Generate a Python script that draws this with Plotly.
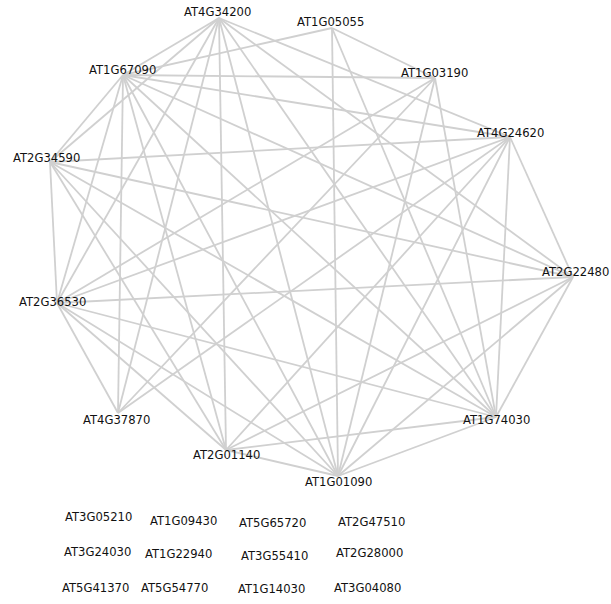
import plotly.graph_objects as go

# Gene interaction network: node names, layout coordinates and edges
genes = [
    "AT4G34200", "AT1G05055", "AT1G67090", "AT1G03190", "AT2G34590", "AT4G24620",
    "AT2G22480", "AT2G36530", "AT4G37870", "AT1G74030", "AT2G01140", "AT1G01090",
]
node_x = [219, 332, 123, 435, 50, 510, 573, 57, 118, 496, 226, 338]
node_y = [18, 28, 75, 78, 162, 137, 277, 303, 413, 417, 450, 476]

# Genes without any interaction, laid out in a grid under the network
lone_genes = [
    "AT3G05210", "AT1G09430", "AT5G65720", "AT2G47510",
    "AT3G24030", "AT1G22940", "AT3G55410", "AT2G28000",
    "AT5G41370", "AT5G54770", "AT1G14030", "AT3G04080",
]
lone_x = [98, 183, 272, 371, 97, 178, 274, 369, 95, 174, 271, 367]
lone_y = [517, 521, 523, 522, 552, 554, 556, 553, 588, 588, 589, 588]

edges = [
    ("AT4G34200", "AT1G67090"), ("AT4G34200", "AT2G34590"), ("AT4G34200", "AT2G36530"),
    ("AT4G34200", "AT4G37870"), ("AT4G34200", "AT2G01140"), ("AT4G34200", "AT1G01090"),
    ("AT4G34200", "AT1G74030"), ("AT4G34200", "AT2G22480"), ("AT4G34200", "AT4G24620"),
    ("AT1G05055", "AT1G67090"), ("AT1G05055", "AT1G03190"), ("AT1G05055", "AT1G01090"),
    ("AT1G05055", "AT1G74030"),
    ("AT1G67090", "AT1G03190"), ("AT1G67090", "AT4G24620"), ("AT1G67090", "AT2G34590"),
    ("AT1G67090", "AT2G36530"), ("AT1G67090", "AT4G37870"), ("AT1G67090", "AT2G01140"),
    ("AT1G67090", "AT1G01090"), ("AT1G67090", "AT1G74030"), ("AT1G67090", "AT2G22480"),
    ("AT1G03190", "AT2G36530"), ("AT1G03190", "AT1G01090"), ("AT1G03190", "AT1G74030"),
    ("AT1G03190", "AT4G37870"),
    ("AT2G34590", "AT4G24620"), ("AT2G34590", "AT2G22480"), ("AT2G34590", "AT2G36530"),
    ("AT2G34590", "AT2G01140"), ("AT2G34590", "AT1G01090"), ("AT2G34590", "AT1G74030"),
    ("AT4G24620", "AT2G36530"), ("AT4G24620", "AT4G37870"), ("AT4G24620", "AT2G01140"),
    ("AT4G24620", "AT1G01090"), ("AT4G24620", "AT1G74030"), ("AT4G24620", "AT2G22480"),
    ("AT2G22480", "AT2G36530"), ("AT2G22480", "AT1G74030"), ("AT2G22480", "AT2G01140"),
    ("AT2G22480", "AT1G01090"),
    ("AT2G36530", "AT4G37870"), ("AT2G36530", "AT1G74030"), ("AT2G36530", "AT1G01090"),
    ("AT2G36530", "AT2G01140"),
    ("AT1G74030", "AT2G01140"), ("AT1G74030", "AT1G01090"),
    ("AT2G01140", "AT1G01090"),
]

# Label placement relative to each node (pixels, +x right, +y down)
label_offset = {
    "AT4G34200": (-2, -6), "AT1G05055": (-2, -6), "AT1G67090": (-1, -5),
    "AT1G03190": (-1, -5), "AT2G34590": (-4, -4), "AT4G24620": (0, -4),
    "AT2G22480": (2, -5), "AT2G36530": (-5, -1), "AT4G37870": (-2, 7),
    "AT1G74030": (0, 3), "AT2G01140": (0, 5), "AT1G01090": (0, 6),
}

pos = {g: (x, y) for g, x, y in zip(genes, node_x, node_y)}
ex, ey = [], []
for a, b in edges:
    ex += [pos[a][0], pos[b][0], None]
    ey += [pos[a][1], pos[b][1], None]

fig = go.Figure()
fig.add_trace(go.Scatter(
    x=ex, y=ey, mode="lines",
    line=dict(color="#d0d0d0", width=1.8),
    hoverinfo="skip", showlegend=False,
))

label_font = dict(family="DejaVu Sans", size=11.6, color="#111111")
for g, x, y in zip(genes, node_x, node_y):
    dx, dy = label_offset[g]
    fig.add_annotation(x=x, y=y, text=g, showarrow=False, xshift=dx, yshift=-dy,
                       font=label_font, xanchor="center", yanchor="middle")
for g, x, y in zip(lone_genes, lone_x, lone_y):
    fig.add_annotation(x=x, y=y, text=g, showarrow=False,
                       font=label_font, xanchor="center", yanchor="middle")

fig.update_layout(
    width=611, height=604,
    margin=dict(l=0, r=0, t=0, b=0),
    paper_bgcolor="white", plot_bgcolor="white",
    xaxis=dict(range=[0, 611], visible=False, fixedrange=True),
    yaxis=dict(range=[604, 0], visible=False, fixedrange=True),
)

fig.write_html("out.html")
